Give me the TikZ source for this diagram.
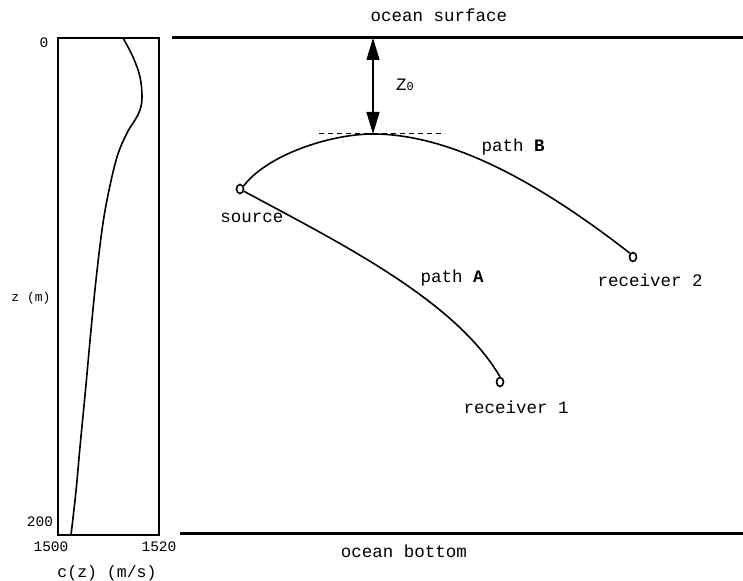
\documentclass[tikz,border=0pt]{standalone}
\usepackage{fontspec}
\newfontfamily\cour{Liberation Mono}
\usetikzlibrary{arrows.meta,shapes.geometric}
\begin{document}
\begin{tikzpicture}[x=1pt,y=-1pt,
  lbl/.style={font=\cour\fontsize{17.5}{20}\selectfont, inner sep=0pt, anchor=center},
  axl/.style={font=\cour\fontsize{14.5}{16}\selectfont, inner sep=0pt, anchor=center},
  recv/.style={draw, ellipse, line width=1.6pt, minimum width=7pt, minimum height=9pt, inner sep=0pt},
  ray/.style={line width=1.6pt},
  bound/.style={line width=3pt}]
\useasboundingbox (0,0) rectangle (743,580);
% profile panel
\draw[line width=1.3pt] (58,38) rectangle (159,535);
\draw[line width=1.6pt] plot[smooth,tension=0.6] coordinates {(123,38) (133,57) (140,77) (142,97) (140,110) (135,120) (127,133) (117,157) (108,195) (102,230) (96,280) (91,330) (85.5,390) (80,447) (76,491) (71,535)};
\node[axl] (d0) at (44,43) {0};
\node[axl] (d200) at (40,522) {200};
\node[axl] (c1500) at (51,547) {1500};
\node[axl] (c1520) at (159,547) {1520};
\node[font=\cour\fontsize{16.5}{18}\selectfont, inner sep=0pt] (cz) at (107,573) {c(z) (m/s)};
\node[font=\cour\fontsize{13}{14}\selectfont, inner sep=0pt] (zm) at (31,298) {z (m)};
% ocean boundaries
\coordinate (sl) at (172,38);
\coordinate (sr) at (743,38);
\coordinate (bl) at (180,533);
\coordinate (br) at (743,533);
\draw[bound] (sl) -- (sr);
\draw[bound] (bl) -- (br);
\node[lbl] (surf) at (439,15) {ocean surface};
\node[lbl] (bott) at (404,551) {ocean bottom};
% turning point
\coordinate (apex) at (373,134);
\coordinate (top) at (373,38);
\coordinate (dl) at (319,134);
\coordinate (dr) at (445,134);
\draw[line width=1pt, dash pattern=on 5pt off 4pt] (dl) -- (dr);
\draw[line width=1.2pt, {Triangle[length=22pt,width=13pt]}-{Triangle[length=22pt,width=13pt]}] (top) -- (apex);
\node[font=\cour\fontsize{17.5}{20}\selectfont, inner sep=0pt] (z0) at (405,85) {Z\fontsize{12}{12}\selectfont 0};
% source and receivers
\node[recv] (src) at (240,189) {};
\node[recv] (r1) at (500,382) {};
\node[recv] (r2) at (633,257) {};
\node[lbl] (srcl) at (252,218) {source};
\node[lbl] (r1l) at (516,407) {receiver 1};
\node[lbl] (r2l) at (650,280) {receiver 2};
\node[lbl] (pA) at (452,278) {path \textbf{A}};
\node[lbl] (pB) at (513,147) {path \textbf{B}};
% rays
\draw[ray] (src.40) .. controls (267,155) and (330,134) .. (apex)
  .. controls (460,134) and (555,195) .. (r2.north west);
\draw[ray] (src.-30) .. controls (340,243) and (455,300) .. (r1.north);
\end{tikzpicture}
\end{document}
